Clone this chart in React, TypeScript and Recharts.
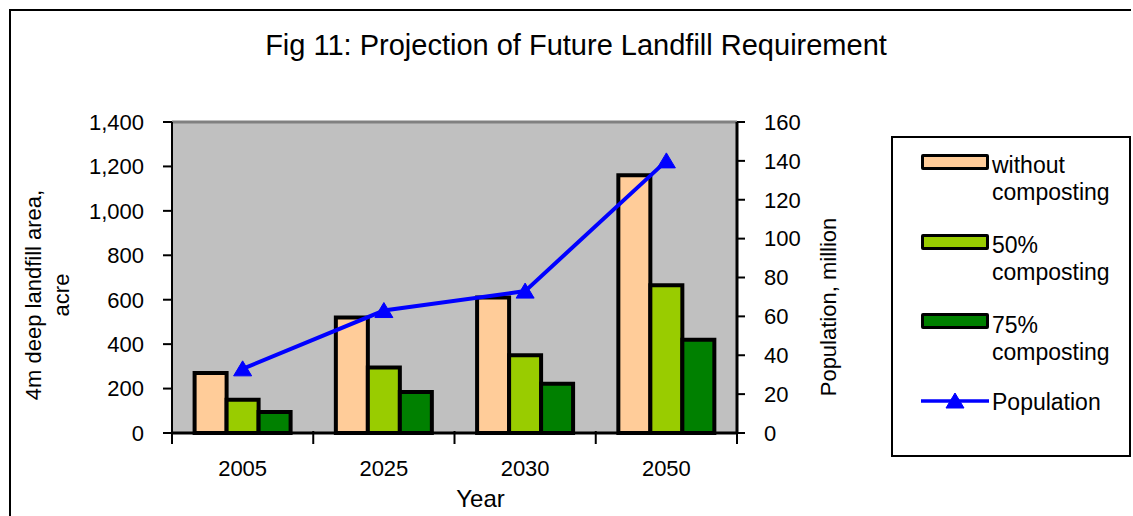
import React from "react"
import {
  ComposedChart,
  Bar,
  Line,
  XAxis,
  YAxis,
  CartesianGrid,
  ReferenceLine,
} from "recharts"

const years = ["2005", "2025", "2030", "2050"]
const withoutComposting = [270, 520, 610, 1160]
const composting50 = [150, 295, 350, 665]
const composting75 = [95, 185, 222, 420]
const population = [33, 63, 73, 140]

const areaTicks = [0, 200, 400, 600, 800, 1000, 1200, 1400]
const populationTicks = [0, 20, 40, 60, 80, 100, 120, 140, 160]

const FONT = '"Liberation Sans", Arial, sans-serif'

const barSeries = [
  { key: "without", name: ["without", "composting"], color: "#FFCC99" },
  { key: "half", name: ["50%", "composting"], color: "#99CC00" },
  { key: "quarter", name: ["75%", "composting"], color: "#008000" },
]

const data = years.map((year, i) => ({
  year,
  without: withoutComposting[i],
  half: composting50[i],
  quarter: composting75[i],
  population: population[i],
}))

function YearTick(props: any) {
  const { x, y, payload, index } = props
  const half = payload && typeof payload.offset === "number" && payload.offset > 0 ? payload.offset : 70.6
  const isLast = index === years.length - 1
  return (
    <g>
      <line x1={x - half} x2={x - half} y1={y - 2} y2={y + 11} stroke="#000" strokeWidth={2} />
      {isLast && <line x1={x + half} x2={x + half} y1={y - 2} y2={y + 11} stroke="#000" strokeWidth={2} />}
      <text x={x} y={y + 43} textAnchor="middle" fontSize={22} fontFamily={FONT} fill="#000">
        {payload.value}
      </text>
    </g>
  )
}

function Triangle(props: any) {
  const { cx, cy } = props
  if (cx == null || cy == null) return null
  return (
    <path
      d={`M${cx},${cy - 8} L${cx - 9},${cy + 7} L${cx + 9},${cy + 7} Z`}
      fill="#0000FF"
      stroke="#0000FF"
      strokeWidth={1}
      strokeLinejoin="round"
    />
  )
}

function LeftAxisLabel() {
  const cx = 30
  const cy = 284
  return (
    <text
      transform={`rotate(-90 ${cx} ${cy})`}
      textAnchor="middle"
      fontSize={22}
      fontFamily={FONT}
      fill="#000"
    >
      <tspan x={cx} y={cy}>4m deep landfill area,</tspan>
      <tspan x={cx} y={cy + 28}>acre</tspan>
    </text>
  )
}

function RightAxisLabel() {
  const cx = 825
  const cy = 296
  return (
    <text
      x={cx}
      y={cy}
      transform={`rotate(-90 ${cx} ${cy})`}
      textAnchor="middle"
      fontSize={22}
      fontFamily={FONT}
      fill="#000"
    >
      Population, million
    </text>
  )
}

function ChartLegend() {
  const tops = [13.5, 93.5, 173.5]
  const swatchTops = [16, 96, 175]
  return (
    <div
      style={{
        position: "absolute",
        left: 880,
        top: 125,
        width: 236,
        height: 317,
        border: "2px solid #000",
        background: "#fff",
        fontFamily: FONT,
        fontSize: 23,
        lineHeight: "27px",
        color: "#000",
      }}
    >
      {barSeries.map((s, i) => (
        <React.Fragment key={s.key}>
          <div
            style={{
              position: "absolute",
              left: 28,
              top: swatchTops[i],
              width: 62,
              height: 10,
              background: s.color,
              border: "3px solid #000",
              borderRadius: 2,
            }}
          />
          <div style={{ position: "absolute", left: 99, top: tops[i] }}>
            {s.name[0]}
            <br />
            {s.name[1]}
          </div>
        </React.Fragment>
      ))}
      <svg style={{ position: "absolute", left: 0, top: 250 }} width={100} height={28}>
        <line x1={28} x2={96} y1={13} y2={13} stroke="#0000FF" strokeWidth={3.5} />
        <Triangle cx={62} cy={13} />
      </svg>
      <div style={{ position: "absolute", left: 99, top: 250.5 }}>Population</div>
    </div>
  )
}

export default function App() {
  return (
    <div
      style={{
        position: "absolute",
        left: 9,
        top: 9,
        width: 1120,
        height: 505,
        borderLeft: "2px solid #000",
        borderTop: "2px solid #000",
        overflow: "hidden",
        background: "#fff",
        fontFamily: FONT,
      }}
    >
      <div
        style={{
          position: "absolute",
          left: 10,
          top: 20,
          width: 1110,
          textAlign: "center",
          fontSize: 29,
          lineHeight: "29px",
          color: "#000",
        }}
      >
        Fig 11: Projection of Future Landfill Requirement
      </div>

      <ComposedChart
        width={1120}
        height={500}
        data={data}
        margin={{ top: 111, right: 274, left: 0, bottom: 0 }}
        barCategoryGap="16%"
        barGap={0}
      >
        <CartesianGrid horizontal={false} vertical={false} fill="#C0C0C0" />

        <XAxis
          dataKey="year"
          height={78}
          interval={0}
          tickSize={0}
          tickMargin={0}
          tick={<YearTick />}
          axisLine={{ stroke: "#000", strokeWidth: 3 }}
          tickLine={false}
          label={{ value: "Year", position: "insideBottom", offset: 4, dx: 26, fontSize: 24, fill: "#000", fontFamily: FONT }}
        />
        <YAxis
          yAxisId="left"
          width={161}
          domain={[0, 1400]}
          ticks={areaTicks}
          interval={0}
          tickSize={9}
          tickMargin={19}
          tickFormatter={(v: number) => v.toLocaleString("en-US")}
          tick={{ fontSize: 22, fill: "#000", fontFamily: FONT }}
          axisLine={{ stroke: "#000", strokeWidth: 2 }}
          tickLine={{ stroke: "#000", strokeWidth: 2 }}
          label={{ content: () => <LeftAxisLabel /> }}
        />
        <YAxis
          yAxisId="right"
          orientation="right"
          width={120}
          domain={[0, 160]}
          ticks={populationTicks}
          interval={0}
          tickSize={8}
          tickMargin={19}
          tick={{ fontSize: 22, fill: "#000", fontFamily: FONT }}
          axisLine={{ stroke: "#000", strokeWidth: 3 }}
          tickLine={{ stroke: "#000", strokeWidth: 2 }}
          label={{ content: () => <RightAxisLabel /> }}
        />

        <ReferenceLine yAxisId="left" y={1400} stroke="#808080" strokeWidth={3} />

        {barSeries.map((s) => (
          <Bar
            key={s.key}
            yAxisId="left"
            dataKey={s.key}
            fill={s.color}
            stroke="#000"
            strokeWidth={4}
            isAnimationActive={false}
          />
        ))}

        <Line
          yAxisId="right"
          dataKey="population"
          stroke="#0000FF"
          strokeWidth={4}
          dot={<Triangle />}
          activeDot={false}
          isAnimationActive={false}
        />
      </ComposedChart>

      <ChartLegend />
    </div>
  )
}
